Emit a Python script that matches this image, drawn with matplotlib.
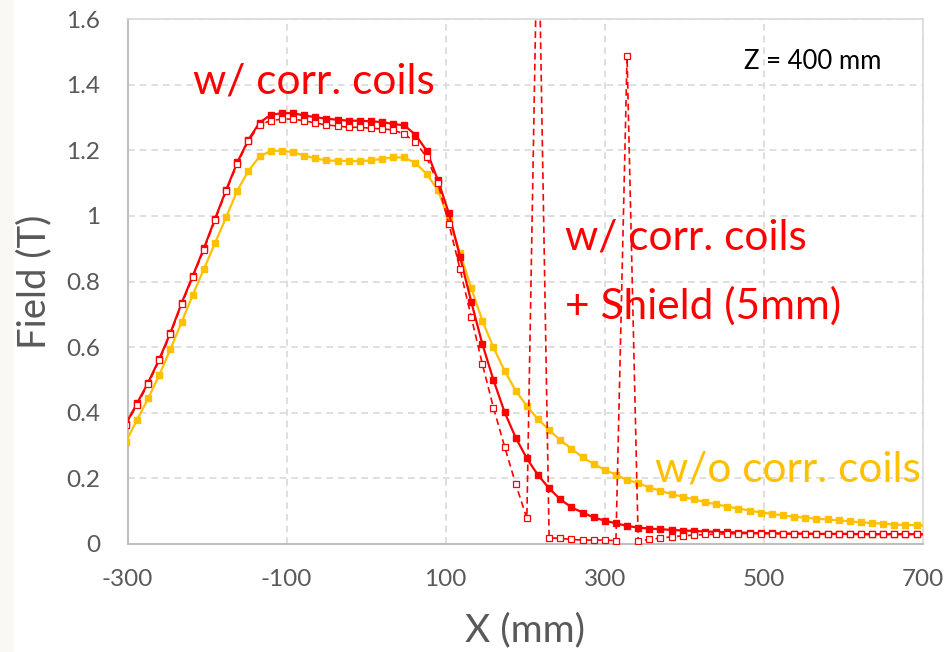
import matplotlib
matplotlib.use("Agg")
import matplotlib.pyplot as plt
from matplotlib.ticker import FixedLocator

# ---------------- data ----------------
x_mm = [-302, -288, -274, -260, -246, -232, -218, -204, -190, -176,
        -162, -148, -134, -120, -106, -92, -78, -64, -50, -36,
        -22, -8, 6, 20, 34, 48, 62, 76, 90, 104,
        118, 132, 146, 160, 174, 188, 202, 216, 230, 244,
        258, 272, 286, 300, 314, 328, 342, 356, 370, 384,
        398, 412, 426, 440, 454, 468, 482, 496, 510, 524,
        538, 552, 566, 580, 594, 608, 622, 636, 650, 664,
        678, 692, 706]

field_no_coils = [0.312, 0.378, 0.444, 0.515, 0.594, 0.676, 0.759, 0.838, 0.917, 0.996,
                  1.077, 1.137, 1.181, 1.198, 1.199, 1.194, 1.184, 1.175, 1.169, 1.168,
                  1.167, 1.167, 1.169, 1.174, 1.178, 1.178, 1.161, 1.128, 1.079, 0.990,
                  0.886, 0.781, 0.681, 0.599, 0.528, 0.467, 0.421, 0.380, 0.348, 0.316,
                  0.291, 0.264, 0.244, 0.226, 0.211, 0.195, 0.186, 0.172, 0.162, 0.152,
                  0.144, 0.136, 0.128, 0.121, 0.114, 0.108, 0.102, 0.096, 0.092, 0.087,
                  0.083, 0.080, 0.077, 0.075, 0.072, 0.069, 0.066, 0.064, 0.062, 0.059,
                  0.058, 0.057, 0.056]

field_coils = [0.366, 0.429, 0.492, 0.564, 0.644, 0.734, 0.817, 0.901, 0.991, 1.079,
               1.163, 1.232, 1.284, 1.308, 1.313, 1.313, 1.306, 1.301, 1.296, 1.293,
               1.290, 1.290, 1.288, 1.286, 1.280, 1.276, 1.247, 1.199, 1.110, 1.008,
               0.876, 0.739, 0.610, 0.500, 0.402, 0.324, 0.261, 0.210, 0.170, 0.136,
               0.112, 0.096, 0.081, 0.071, 0.063, 0.055, 0.050, 0.047, 0.045, 0.043,
               0.041, 0.040, 0.038, 0.037, 0.036, 0.035, 0.034, 0.033, 0.033, 0.032,
               0.032, 0.032, 0.031, 0.031, 0.031, 0.031, 0.030, 0.030, 0.030, 0.030,
               0.030, 0.030, 0.029]

field_coils_shield = [0.362, 0.425, 0.488, 0.560, 0.640, 0.730, 0.813, 0.897, 0.987, 1.075,
                      1.159, 1.228, 1.278, 1.290, 1.295, 1.295, 1.290, 1.283, 1.277, 1.274,
                      1.270, 1.270, 1.267, 1.265, 1.262, 1.249, 1.225, 1.179, 1.100, 0.975,
                      0.838, 0.693, 0.549, 0.416, 0.297, 0.183, 0.078, 2.000, 0.019, 0.017,
                      0.014, 0.012, 0.012, 0.012, 0.010, 1.486, 0.009, 0.014, 0.018, 0.022,
                      0.025, 0.027, 0.029, 0.030, 0.031, 0.032, 0.032, 0.032, 0.032, 0.031,
                      0.031, 0.031, 0.030, 0.030, 0.030, 0.030, 0.029, 0.029, 0.029, 0.029,
                      0.029, 0.029, 0.028]

x_ticks = [-300, -100, 100, 300, 500, 700]
y_ticks = [0, 0.2, 0.4, 0.6, 0.8, 1.0, 1.2, 1.4, 1.6]
y_tick_labels = ["0", "0.2", "0.4", "0.6", "0.8", "1", "1.2", "1.4", "1.6"]

RED = "#FF0000"
YELLOW = "#FFC000"
GRAY_TXT = "#595959"

plt.rcParams['font.family'] = ['Lato', 'DejaVu Sans']
plt.rcParams['axes.unicode_minus'] = False

W, H = 948, 652
fig = plt.figure(figsize=(W / 100, H / 100), dpi=100)
fig.patch.set_facecolor("white")

# faint cream strip at the far left of the slide
fig.patches.append(plt.Rectangle((0, 0), 14 / W, 1, transform=fig.transFigure,
                                 facecolor="#FAF8F3", edgecolor="none", zorder=0))

L, R, T, B = 127.5, 923, 19, 544
ax = fig.add_axes([L / W, 1 - B / H, (R - L) / W, (B - T) / H])
ax.set_xlim(-300, 700)
ax.set_ylim(0, 1.6)

ax.xaxis.set_major_locator(FixedLocator(x_ticks))
ax.set_yticks(y_ticks)
ax.set_yticklabels(y_tick_labels)
ax.grid(True, color="#D9D9D9", linestyle=(0, (4, 3)), linewidth=1.2)
ax.set_axisbelow(True)
for side in ["left", "bottom"]:
    ax.spines[side].set_color("#BFBFBF")
    ax.spines[side].set_linewidth(1.5)
for side in ["top", "right"]:
    ax.spines[side].set_color("#D9D9D9")
    ax.spines[side].set_linewidth(1.2)
ax.tick_params(length=0, labelsize=17.5, labelcolor=GRAY_TXT)
ax.tick_params(axis="y", pad=19.5)
ax.tick_params(axis="x", pad=18)

ax.plot(x_mm, field_no_coils, color=YELLOW, lw=1.6, marker="s", ms=4.4,
        mfc=YELLOW, mec=YELLOW, zorder=3)
ax.plot(x_mm, field_coils, color=RED, lw=1.6, marker="s", ms=4.4,
        mfc=RED, mec=RED, zorder=4)
ax.plot(x_mm, field_coils_shield, color=RED, lw=1.2, ls=(0, (4, 2.5)), marker="s",
        ms=4.4, mfc="white", mec=RED, mew=0.9, zorder=5)

ax.set_xlabel("X (mm)", fontsize=28, color=GRAY_TXT, labelpad=16)
ax.set_ylabel("Field (T)", fontsize=27.5, color=GRAY_TXT, labelpad=10)


def ftext(px, py, s, **kw):
    fig.text(px / W, 1 - py / H, s, ha="left", va="baseline", **kw)


ftext(193, 93, "w/ corr. coils", color=RED, fontsize=30.5)
ftext(565, 249, "w/ corr. coils", color=RED, fontsize=30.5)
ftext(565, 319, "+ Shield (5mm)", color=RED, fontsize=30.5)
ftext(655, 482, "w/o corr. coils", color=YELLOW, fontsize=30.5)
ftext(744, 69, "Z = 400 mm", color="black", fontsize=18.5)

fig.savefig("out.png", dpi=100)
